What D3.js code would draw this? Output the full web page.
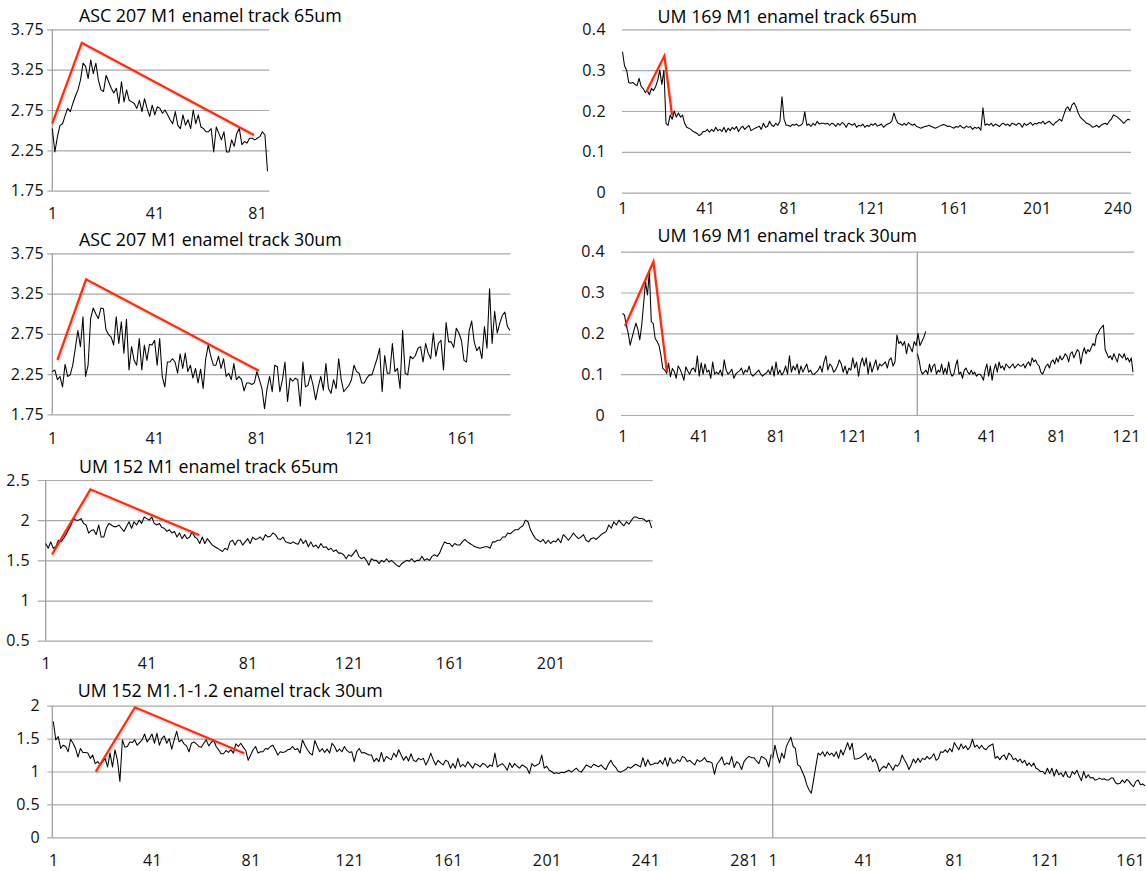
<!DOCTYPE html>
<html><head><meta charset="utf-8">
<script src="https://cdn.jsdelivr.net/npm/d3@7"></script>
<style>body{margin:0;background:#fff}svg{display:block}</style>
</head><body>
<svg id="chart" width="1146" height="871"></svg>
<script>
// ---------- DATA ----------
const titles = ["ASC 207 M1 enamel track 65um","UM 169 M1 enamel track 65um","ASC 207 M1 enamel track 30um","UM 169 M1 enamel track 30um","UM 152 M1 enamel track 65um","UM 152 M1.1-1.2 enamel track 30um"];

const ticksASC = [1.75, 2.25, 2.75, 3.25, 3.75];
const ticksUM169 = [0, 0.1, 0.2, 0.3, 0.4];
const ticksUM152a = [0.5, 1, 1.5, 2, 2.5];
const ticksUM152b = [0, 0.5, 1, 1.5, 2];

const cats85 = [1, 41, 81];
const cats246 = [1, 41, 81, 121, 161, 201, 240];
const cats180 = [1, 41, 81, 121, 161];
const cats159 = [1, 41, 81, 121];
const cats125 = [1, 41, 81, 121];
const cats241 = [1, 41, 81, 121, 161, 201];
const cats292 = [1, 41, 81, 121, 161, 201, 241, 281];
const cats165 = [1, 41, 81, 121, 161];

const asc207_65 = [2.52,2.23,2.42,2.56,2.58,2.68,2.77,2.73,2.83,2.92,
3.00,3.12,3.33,3.29,3.14,3.37,3.20,3.33,3.12,3.00,
2.98,3.18,3.10,3.02,2.96,3.02,2.83,3.10,2.85,3.00,
2.87,2.85,2.83,2.77,2.87,2.73,2.89,2.77,2.67,2.81,
2.69,2.79,2.77,2.71,2.75,2.69,2.63,2.58,2.73,2.56,
2.52,2.69,2.56,2.63,2.52,2.75,2.58,2.69,2.54,2.52,
2.48,2.48,2.52,2.23,2.54,2.46,2.38,2.48,2.23,2.23,
2.38,2.30,2.46,2.52,2.32,2.36,2.34,2.40,2.40,2.38,
2.40,2.42,2.48,2.44,1.99];

const um169_65 = [.345,.31,.30,.27,.268,.27,.265,.262,.28,.26,
.255,.245,.25,.24,.255,.25,.26,.275,.30,.265,
.30,.17,.165,.19,.18,.20,.185,.195,.185,.19,
.17,.16,.158,.155,.15,.148,.145,.14,.143,.15,
.15,.155,.148,.155,.15,.16,.152,.155,.15,.16,
.148,.158,.152,.16,.155,.162,.15,.158,.163,.155,
.16,.165,.152,.155,.158,.16,.163,.155,.17,.16,
.162,.175,.165,.162,.17,.165,.175,.235,.18,.165,
.165,.162,.167,.165,.168,.163,.165,.17,.198,.165,
.168,.162,.17,.165,.175,.168,.17,.17,.168,.17,
.165,.17,.168,.162,.17,.165,.172,.168,.16,.17,
.168,.165,.17,.16,.165,.163,.168,.16,.165,.162,
.168,.165,.17,.163,.165,.168,.16,.165,.168,.17,
.175,.195,.18,.17,.168,.165,.17,.165,.172,.168,
.165,.168,.162,.16,.158,.16,.162,.163,.165,.162,
.16,.158,.16,.163,.165,.167,.165,.162,.163,.16,
.158,.162,.16,.165,.16,.158,.163,.16,.162,.155,
.16,.158,.16,.153,.208,.165,.168,.165,.17,.163,
.168,.165,.162,.168,.17,.165,.168,.163,.17,.168,
.165,.17,.168,.16,.17,.165,.168,.172,.165,.17,
.168,.172,.17,.175,.168,.172,.175,.17,.165,.172,
.175,.18,.175,.19,.205,.21,.20,.215,.22,.21,
.195,.185,.18,.175,.17,.168,.165,.16,.162,.165,
.16,.165,.168,.17,.167,.175,.18,.19,.188,.185,
.18,.175,.17,.175,.18,.178];

const asc207_30 = [2.28,2.30,2.18,2.22,2.09,2.37,2.22,2.24,2.36,2.57,
2.79,2.59,2.96,2.22,2.36,2.94,3.07,3.00,2.94,3.07,
3.06,2.80,2.74,2.71,2.61,2.96,2.63,2.90,2.51,2.93,
2.30,2.59,2.42,2.36,2.69,2.30,2.61,2.42,2.62,2.61,
2.67,2.36,2.69,2.22,2.09,2.40,2.40,2.44,2.40,2.26,
2.50,2.32,2.51,2.28,2.36,2.20,2.32,2.14,2.31,2.07,
2.44,2.61,2.47,2.36,2.36,2.47,2.32,2.44,2.22,2.26,
2.18,2.38,2.18,2.22,2.18,2.04,2.14,2.14,2.12,2.14,
2.28,2.18,2.07,1.82,2.07,2.22,2.03,2.36,2.34,2.03,
2.18,2.40,1.91,2.20,2.16,2.20,2.18,1.85,2.40,2.09,
2.11,2.24,2.11,1.93,2.09,2.22,2.05,2.38,2.07,2.01,
2.18,2.07,2.44,2.18,2.03,2.07,2.11,2.18,2.36,2.28,
2.26,2.14,2.14,2.20,2.24,2.24,2.34,2.44,2.57,2.03,
2.48,2.26,2.26,2.63,2.28,2.32,2.07,2.79,2.26,2.24,
2.47,2.44,2.48,2.57,2.59,2.40,2.63,2.51,2.44,2.76,
2.47,2.63,2.67,2.30,2.89,2.65,2.65,2.58,2.82,2.76,
2.67,2.42,2.40,2.78,2.91,2.65,2.54,2.59,2.44,2.84,
2.57,3.31,2.63,3.03,2.76,2.88,2.98,3.02,2.84,2.79];

const um169_30a = [.249,.245,.22,.2,.171,.19,.208,.225,.21,.184,
.22,.273,.326,.294,.35,.229,.224,.188,.18,.171,
.147,.114,.11,.102,.127,.094,.114,.106,.09,.12,
.112,.1,.085,.118,.108,.1,.112,.115,.105,.145,
.095,.128,.1,.125,.105,.11,.09,.13,.1,.105,
.1,.11,.095,.135,.11,.1,.105,.112,.09,.1,
.105,.108,.115,.1,.11,.105,.12,.1,.095,.1,
.105,.11,.1,.095,.1,.103,.11,.1,.12,.095,
.13,.1,.11,.098,.105,.12,.1,.145,.105,.12,
.11,.125,.1,.12,.105,.115,.125,.105,.11,.1,
.1,.105,.11,.12,.105,.13,.145,.11,.125,.12,
.105,.11,.12,.135,.125,.105,.12,.1,.115,.11,
.14,.115,.13,.095,.125,.14,.12,.14,.1,.13,
.105,.12,.135,.11,.125,.12,.125,.13,.115,.135,
.14,.12,.13,.196,.175,.18,.17,.18,.15,.175,
.165,.155,.18,.17,.2,.17,.18,.19,.205];

const um169_30b = [.15,.135,.11,.1,.105,.11,.1,.125,.105,.12,
.125,.1,.11,.105,.125,.1,.115,.1,.13,.105,
.095,.1,.12,.135,.1,.105,.09,.11,.115,.105,
.1,.11,.1,.105,.095,.1,.1,.095,.085,.11,
.125,.095,.12,.085,.11,.125,.105,.13,.115,.12,
.11,.125,.12,.115,.12,.125,.115,.12,.125,.12,
.12,.125,.115,.125,.13,.12,.14,.13,.135,.125,
.12,.105,.1,.11,.12,.125,.115,.13,.135,.125,
.14,.13,.145,.135,.14,.15,.145,.13,.15,.155,
.14,.15,.16,.155,.125,.15,.165,.15,.16,.155,
.165,.175,.17,.195,.2,.21,.215,.22,.16,.15,
.14,.145,.135,.15,.14,.13,.15,.145,.14,.15,
.135,.14,.13,.14,.105];

const um152_65 = [1.71,1.65,1.73,1.65,1.67,1.75,1.73,1.77,1.82,1.88,
1.94,2.02,2.00,2.00,2.02,1.96,1.94,1.84,1.87,1.88,
1.82,1.94,1.79,1.79,1.90,1.96,1.94,1.92,1.92,1.94,
1.90,1.86,1.92,1.98,1.90,1.98,1.94,2.00,1.96,2.04,
2.02,2.00,2.04,1.96,1.94,1.96,1.91,1.90,1.86,1.88,
1.84,1.86,1.79,1.84,1.77,1.82,1.77,1.79,1.86,1.79,
1.77,1.71,1.79,1.71,1.77,1.73,1.69,1.67,1.65,1.63,
1.61,1.65,1.63,1.73,1.75,1.69,1.75,1.75,1.69,1.73,
1.77,1.71,1.79,1.76,1.77,1.79,1.75,1.82,1.79,1.80,
1.84,1.82,1.77,1.76,1.79,1.73,1.72,1.71,1.73,1.71,
1.70,1.77,1.71,1.75,1.67,1.73,1.67,1.69,1.65,1.71,
1.66,1.67,1.63,1.65,1.61,1.63,1.59,1.59,1.57,1.52,
1.57,1.55,1.59,1.63,1.55,1.52,1.54,1.50,1.44,1.52,
1.50,1.50,1.46,1.50,1.48,1.52,1.48,1.50,1.47,1.44,
1.42,1.46,1.48,1.50,1.49,1.52,1.48,1.50,1.50,1.55,
1.50,1.52,1.50,1.55,1.57,1.55,1.59,1.67,1.73,1.71,
1.71,1.67,1.71,1.69,1.69,1.73,1.76,1.73,1.71,1.69,
1.67,1.66,1.65,1.66,1.67,1.67,1.65,1.73,1.73,1.75,
1.75,1.79,1.79,1.84,1.83,1.86,1.88,1.88,1.91,1.93,
2.00,1.98,1.88,1.82,1.77,1.75,1.73,1.76,1.71,1.75,
1.71,1.74,1.73,1.77,1.72,1.82,1.79,1.75,1.79,1.84,
1.80,1.77,1.79,1.82,1.75,1.73,1.77,1.78,1.76,1.79,
1.82,1.84,1.86,1.94,1.90,1.98,1.94,2.00,1.96,1.93,
1.98,1.95,2.00,2.04,2.04,2.02,2.02,2.01,1.98,2.00,
1.90];

const um152_30a = [1.76,1.48,1.53,1.35,1.40,1.38,1.30,1.49,1.43,1.35,
1.22,1.35,1.29,1.29,1.28,1.20,1.25,1.12,1.15,1.10,
1.15,1.20,1.07,1.28,1.07,1.33,1.17,0.85,1.48,1.37,
1.38,1.45,1.44,1.48,1.40,1.44,1.48,1.57,1.45,1.50,
1.57,1.43,1.58,1.40,1.50,1.54,1.43,1.50,1.34,1.48,
1.61,1.45,1.48,1.42,1.39,1.30,1.43,1.45,1.42,1.38,
1.37,1.43,1.48,1.39,1.44,1.48,1.38,1.33,1.27,1.27,
1.32,1.29,1.33,1.28,1.42,1.38,1.43,1.37,1.32,1.17,
1.25,1.33,1.38,1.28,1.30,1.30,1.35,1.34,1.38,1.40,
1.33,1.25,1.30,1.29,1.30,1.33,1.34,1.38,1.33,1.35,
1.28,1.48,1.40,1.33,1.28,1.25,1.47,1.38,1.30,1.35,
1.29,1.34,1.28,1.43,1.38,1.30,1.34,1.30,1.38,1.32,
1.29,1.30,1.15,1.30,1.35,1.28,1.29,1.27,1.25,1.25,
1.15,1.20,1.15,1.29,1.15,1.23,1.20,1.18,1.28,1.22,
1.33,1.25,1.17,1.23,1.16,1.27,1.17,1.15,1.20,1.18,
1.20,1.10,1.17,1.28,1.18,1.10,1.17,1.13,1.10,1.17,
1.15,1.05,1.12,1.05,1.20,1.07,1.11,1.07,1.15,1.10,
1.05,1.12,1.10,1.07,1.12,1.11,1.06,1.10,1.08,1.28,
1.07,1.10,1.12,1.08,1.02,1.13,1.06,1.12,1.08,1.05,
1.10,1.08,1.05,0.97,1.12,1.08,1.10,1.12,1.25,1.05,
1.08,1.02,1.00,0.97,0.98,0.97,0.99,0.98,1.00,1.02,
0.99,1.02,1.05,1.01,0.99,1.04,1.10,1.08,1.06,1.11,
1.09,1.07,1.10,1.06,1.03,1.11,1.17,1.10,1.06,1.00,
0.99,1.01,1.03,1.07,1.05,1.08,1.11,1.09,1.07,1.21,
1.08,1.18,1.10,1.11,1.13,1.12,1.17,1.11,1.21,1.08,
1.21,1.13,1.13,1.18,1.15,1.23,1.21,1.15,1.17,1.13,
1.10,1.18,1.15,1.17,1.21,1.15,1.15,1.13,0.96,1.11,
1.16,1.22,1.10,1.13,1.11,1.23,1.06,1.15,1.12,1.03,
1.15,1.20,1.23,1.21,1.21,1.16,1.12,1.23,1.21,1.18,
1.07,1.26];

const um152_30b = [1.20,1.40,1.25,1.13,1.28,1.20,1.38,1.45,1.52,1.38,
1.35,1.10,1.08,1.00,0.92,0.80,0.72,0.67,0.87,1.08,
1.28,1.25,1.30,1.23,1.30,1.25,1.28,1.23,1.30,1.20,
1.33,1.25,1.34,1.44,1.33,1.43,1.19,1.19,1.20,1.22,
1.25,1.28,1.18,1.24,1.15,1.19,1.12,1.00,1.05,1.08,
1.05,1.13,1.08,1.02,1.10,1.08,1.13,1.25,1.18,1.12,
1.03,1.10,1.19,1.13,1.20,1.14,1.20,1.18,1.23,1.19,
1.22,1.27,1.17,1.20,1.30,1.29,1.33,1.29,1.35,1.30,
1.44,1.38,1.33,1.42,1.35,1.39,1.33,1.38,1.49,1.37,
1.40,1.35,1.40,1.35,1.33,1.38,1.40,1.42,1.20,1.23,
1.18,1.23,1.25,1.18,1.28,1.25,1.18,1.20,1.15,1.19,
1.13,1.17,1.09,1.13,1.08,1.13,1.05,1.03,1.00,1.00,
0.96,1.05,0.97,1.05,0.93,1.03,0.95,0.98,0.92,1.00,
0.92,0.91,1.00,0.96,1.02,0.93,0.86,1.00,0.90,0.95,
0.90,0.91,0.87,0.88,0.90,0.88,0.89,0.87,0.87,0.90,
0.90,0.83,0.81,0.82,0.87,0.83,0.88,0.85,0.80,0.77,
0.85,0.87,0.80,0.81,0.78];

// red annotation lines: [category, value]
const red1 = [[1,2.585],[12.5,3.584],[79.7,2.44]];
const red2 = [[12.5,0.247],[21.2,0.335],[24.9,0.19]];
const red3 = [[3,2.425],[14.2,3.427],[81.8,2.292]];
const red4 = [[2.3,0.218],[17.1,0.3755],[24.1,0.106]];
const red5 = [[3.5,1.575],[18.7,2.384],[61.8,1.816]];
const red6 = [[18.2,0.997],[34.1,1.976],[78.4,1.277]];

// ---------- LAYOUT ----------
const panels = [
 {title:titles[0], tx:79, ty:21.7, yDom:[1.75,3.75], yRng:[190.7,29.3], ticks:ticksASC, gL:52.3, gR:269.3, tLen:5, axis:true, lblR:44, xlY:213.3,
  series:[{data:asc207_65, x0:52.3, x1:267.5, cats:cats85}], red:red1, sep:false},
 {title:titles[1], tx:657.6, ty:23.3, yDom:[0,0.4], yRng:[192.7,29.3], ticks:ticksUM169, gL:622, gR:1131, tLen:0, axis:false, lblR:606, xlY:208.7,
  series:[{data:um169_65, x0:622.5, x1:1130, cats:cats246}], red:red2, sep:false},
 {title:titles[2], tx:79, ty:245.7, yDom:[1.75,3.75], yRng:[414.3,253.3], ticks:ticksASC, gL:52.3, gR:510.5, tLen:5, axis:true, lblR:44, xlY:438.3,
  series:[{data:asc207_30, x0:52.3, x1:510, cats:cats180}], red:red3, sep:false},
 {title:titles[3], tx:657.6, ty:241.7, yDom:[0,0.4], yRng:[415,251.7], ticks:ticksUM169, gL:621, gR:1134, tLen:0, axis:false, lblR:605, xlY:436.7,
  series:[{data:um169_30a, x0:622.5, x1:925.7, cats:cats159},{data:um169_30b, x0:917.3, x1:1133, cats:cats125}], red:red4, sep:true},
 {title:titles[4], tx:79, ty:472.7, yDom:[0.5,2.5], yRng:[640.7,480], ticks:ticksUM152a, gL:45.7, gR:652.7, tLen:8, axis:true, lblR:30, xlY:663.3,
  series:[{data:um152_65, x0:45.7, x1:651.7, cats:cats241}], red:red5, sep:false},
 {title:titles[5], tx:77.7, ty:696.7, yDom:[0,2], yRng:[837.3,705.7], ticks:ticksUM152b, gL:52.3, gR:1146, tLen:5, axis:true, lblR:40, xlY:860.7,
  series:[{data:um152_30a, x0:53.3, x1:771.2, cats:cats292},{data:um152_30b, x0:772.7, x1:1145, cats:cats165}], red:red6, sep:true}
];

const FONT = "'Open Sans', 'DejaVu Sans', sans-serif";
const TICKFS = 16, TITLEFS = 17.8;
const svg = d3.select("#chart");
svg.append("rect").attr("width",1146).attr("height",871).attr("fill","#fff");

panels.forEach(p => {
  const g = svg.append("g");
  const y = d3.scaleLinear().domain(p.yDom).range(p.yRng);

  // gridlines + y labels
  const ya = d3.axisLeft(y).tickValues(p.ticks).tickFormat(d => String(d))
     .tickSize(-(p.gR - p.gL + p.tLen)).tickPadding((p.gL - p.tLen) - p.lblR);
  const yg = g.append("g").attr("transform", `translate(${p.gL - p.tLen},0)`).call(ya);
  yg.select(".domain").remove();
  yg.selectAll("line").attr("stroke","#a9a9a9").attr("stroke-width",1.2);
  yg.selectAll("text").attr("font-family",FONT).attr("font-size",TICKFS)
    .attr("letter-spacing","0.4px").attr("fill","#111");

  if (p.axis) {
    g.append("line").attr("x1",p.gL).attr("x2",p.gL).attr("y1",p.yRng[1]).attr("y2",p.yRng[0])
     .attr("stroke","#a0a0a0").attr("stroke-width",1.3);
  }

  const xs = p.series.map(s => d3.scaleLinear().domain([1, s.data.length]).range([s.x0, s.x1]));

  if (p.sep) {
    const sx = p.series[1].x0;
    g.append("line").attr("x1",sx).attr("x2",sx).attr("y1",p.yRng[1]).attr("y2",p.yRng[0])
     .attr("stroke","#a0a0a0").attr("stroke-width",1.3);
  }

  // x labels
  p.series.forEach((s,i) => {
    const xa = d3.axisBottom(xs[i]).tickValues(s.cats).tickFormat(d => String(d)).tickSize(0).tickPadding(0);
    const xg = g.append("g").attr("transform", `translate(0,${p.xlY})`).call(xa);
    xg.select(".domain").remove();
    xg.selectAll("text").attr("dy","0.36em").attr("font-family",FONT).attr("font-size",TICKFS)
      .attr("letter-spacing","0.4px").attr("fill","#111");
    // keep labels inside the picture
    xg.selectAll("text").each(function(){
      const r = this.getBoundingClientRect();
      if (r.right > 1145) d3.select(this).attr("x", -(r.right - 1145));
    });
  });

  // data lines
  p.series.forEach((s,i) => {
    const ln = d3.line().x((d,j) => xs[i](j+1)).y(d => y(d));
    g.append("path").datum(s.data).attr("d",ln).attr("fill","none")
     .attr("stroke","#000").attr("stroke-width",1.05).attr("stroke-linejoin","round");
  });

  // red annotation
  const rl = d3.line().x(d => xs[0](d[0])).y(d => y(d[1]));
  g.append("path").datum(p.red).attr("d",rl).attr("fill","none")
   .attr("stroke","#000").attr("stroke-opacity",0.12).attr("stroke-width",3)
   .attr("transform","translate(1,2)");
  g.append("path").datum(p.red).attr("d",rl).attr("fill","none")
   .attr("stroke","#ff2a0a").attr("stroke-width",2.2).attr("stroke-linejoin","miter");

  // title
  g.append("text").attr("x",p.tx).attr("y",p.ty).text(p.title)
   .attr("font-family",FONT).attr("font-size",TITLEFS).attr("fill","#000");
});
</script>
</body></html>
